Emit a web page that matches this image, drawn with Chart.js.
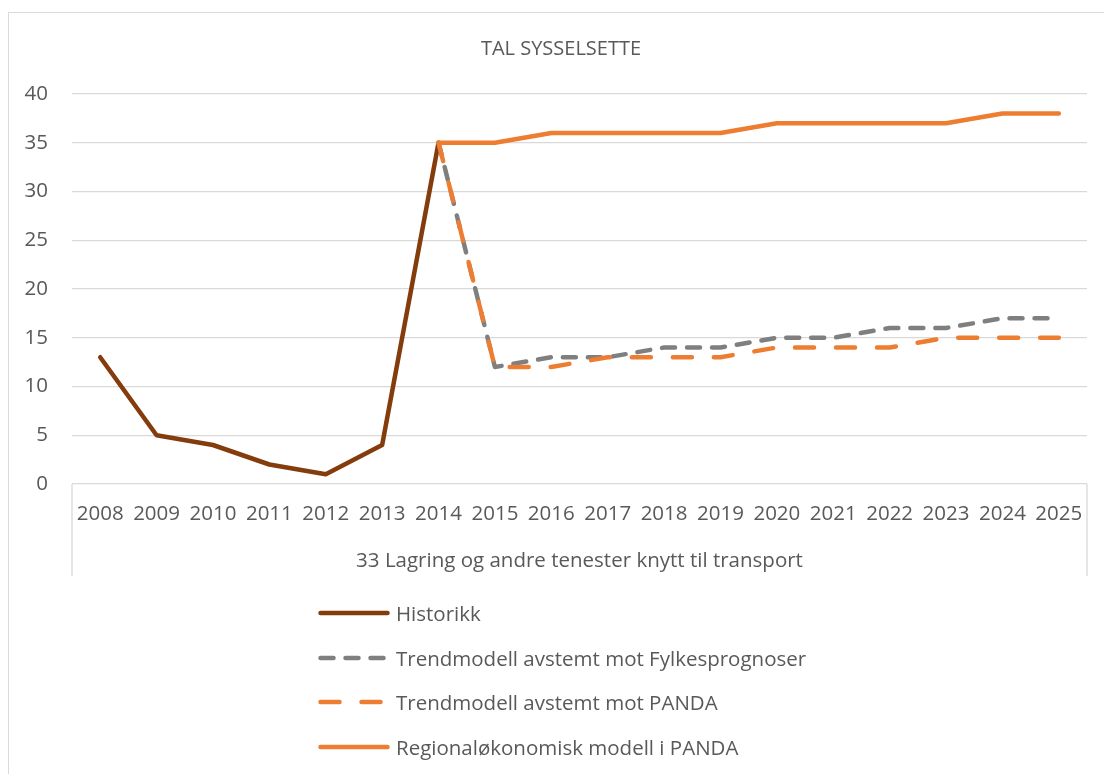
<!DOCTYPE html>
<html>
<head>
<meta charset="utf-8">
<script src="https://cdn.jsdelivr.net/npm/chart.js@4"></script>
<style>
  html, body { margin: 0; padding: 0; background: #fff; overflow: hidden; }
  #wrap { position: relative; width: 1104px; height: 774px; overflow: hidden; }
  #frame { position: absolute; left: 8px; top: 12px; width: 1200px; height: 900px; border: 1.5px solid #d9d9d9; box-sizing: border-box; }
  canvas { position: absolute; left: 0; top: 0; }
  .leg { position: absolute; left: 318px; height: 26px; display: flex; align-items: center; font-family: "Open Sans", sans-serif; font-size: 20.5px; color: #595959; white-space: nowrap; }
  .leg svg { margin-right: 6px; }
</style>
</head>
<body>
<div id="wrap">
  <div id="frame"></div>
  <canvas id="c" width="1104" height="774"></canvas>
  <div id="legend"></div>
</div>
<script>
const categories = ["2008","2009","2010","2011","2012","2013","2014","2015","2016","2017","2018","2019","2020","2021","2022","2023","2024","2025"];
const historikk      = [13, 5, 4, 2, 1, 4, 35, null, null, null, null, null, null, null, null, null, null, null];
const trendFylke     = [null, null, null, null, null, null, 35, 12, 13, 13, 14, 14, 15, 15, 16, 16, 17, 17];
const trendPanda     = [null, null, null, null, null, null, 35, 12, 12, 13, 13, 13, 14, 14, 14, 15, 15, 15];
const regionalPanda  = [null, null, null, null, null, null, 35, 35, 36, 36, 36, 36, 37, 37, 37, 37, 38, 38];
const seriesNames = ["Historikk", "Trendmodell avstemt mot Fylkesprognoser", "Trendmodell avstemt mot PANDA", "Regionaløkonomisk modell i PANDA"];
const yTicks = [0, 5, 10, 15, 20, 25, 30, 35, 40];
const chartTitle = "TAL SYSSELSETTE";
const groupLabel = "33 Lagring og andre tenester knytt til transport";

const colors = ["#843c0c", "#7f7f7f", "#ed7d31", "#ed7d31"];
const dashes = [[], [13, 12], [19, 22], []];
const seriesData = [historikk, trendFylke, trendPanda, regionalPanda];
const FONT = "'Open Sans', sans-serif";
const TXT = "#595959";
const GRID = "#d9d9d9";
const FS = 20.5;
const LW = 4.5;

const boxPlugin = {
  id: 'groupBox',
  afterDraw(chart) {
    const ctx = chart.ctx, a = chart.chartArea;
    ctx.save();
    ctx.strokeStyle = GRID;
    ctx.lineWidth = 1.3;
    ctx.beginPath();
    ctx.moveTo(a.left, a.bottom); ctx.lineTo(a.left, 576);
    ctx.moveTo(a.right, a.bottom); ctx.lineTo(a.right, 576);
    ctx.stroke();
    ctx.restore();
  }
};

const datasets = seriesData.map((d, i) => ({
  label: seriesNames[i],
  data: d,
  borderColor: colors[i],
  backgroundColor: colors[i],
  borderWidth: LW,
  borderDash: dashes[i],
  borderCapStyle: 'round',
  borderJoinStyle: 'round',
  pointRadius: 0,
  pointHoverRadius: 0,
  tension: 0,
  spanGaps: false,
  order: 4 - i
}));

new Chart(document.getElementById('c'), {
  type: 'line',
  data: { labels: categories, datasets },
  options: {
    responsive: false,
    animation: false,
    layout: { padding: { left: 18, right: 0, top: 0, bottom: 201 } },
    plugins: {
      legend: { display: false },
      tooltip: { enabled: false },
      title: {
        display: true,
        text: chartTitle,
        color: TXT,
        font: { family: FONT, size: 20, weight: 'normal' },
        padding: { top: 37, bottom: 33 }
      }
    },
    scales: {
      x: {
        offset: true,
        grid: { display: false, drawTicks: false },
        border: { display: false },
        ticks: { color: TXT, font: { family: FONT, size: FS }, padding: 18, maxRotation: 0, autoSkip: false },
        title: { display: true, text: groupLabel, color: TXT, font: { family: FONT, size: FS }, padding: { top: 0, bottom: 0 } },
        afterFit(scale) { scale.height = 89; }
      },
      y: {
        min: 0, max: 40,
        afterBuildTicks(scale) { scale.ticks = yTicks.map(v => ({ value: v })); },
        grid: { color: GRID, lineWidth: 1.3, drawTicks: false },
        border: { display: false },
        ticks: { color: TXT, font: { family: FONT, size: FS }, padding: 24 },
        afterFit(scale) { scale.width = 54; }
      },
      yRight: {
        position: 'right',
        display: true,
        min: 0, max: 40,
        grid: { display: false, drawTicks: false },
        border: { display: false },
        ticks: { display: false },
        afterFit(scale) { scale.width = 17; }
      }
    }
  },
  plugins: [boxPlugin]
});

// Legend (HTML text, line samples in SVG)
const legendTops = [613, 658, 702, 747];
const legendEl = document.getElementById('legend');
seriesNames.forEach((name, i) => {
  const row = document.createElement('div');
  row.className = 'leg';
  row.style.top = (legendTops[i] - 13) + 'px';
  const dash = dashes[i].length ? `stroke-dasharray="${dashes[i].join(' ')}"` : '';
  row.innerHTML = `<svg width="72" height="10"><line x1="2.5" y1="5" x2="69.5" y2="5" stroke="${colors[i]}" stroke-width="${LW}" stroke-linecap="round" ${dash}/></svg><span></span>`;
  row.querySelector('span').textContent = name;
  legendEl.appendChild(row);
});
</script>
</body>
</html>
